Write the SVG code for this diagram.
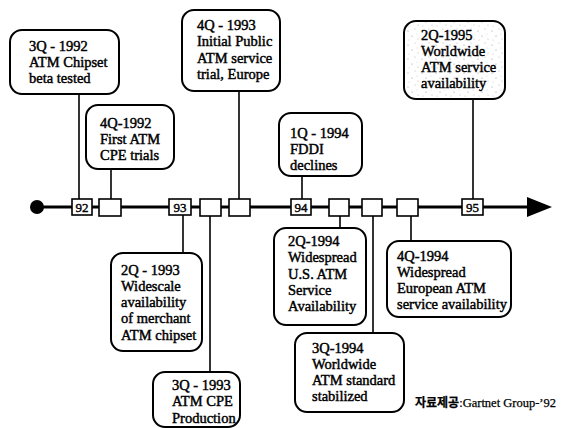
<svg xmlns="http://www.w3.org/2000/svg" width="569" height="428" viewBox="0 0 569 428">
<style>
.box{fill:#fff;stroke:#000;stroke-width:2}
.t{font-family:"Liberation Serif","Times New Roman",serif;font-size:14.5px;fill:#000;stroke:#000;stroke-width:0.45}
.tick{fill:#fff;stroke:#000;stroke-width:1.6}
.tl{font-family:"Liberation Serif","Times New Roman",serif;font-size:13px;fill:#000;stroke:#000;stroke-width:0.4;text-anchor:middle}
.c{stroke:#000;stroke-width:1.6;fill:none}
</style>
<defs>
<pattern id="speck" width="14" height="14" patternUnits="userSpaceOnUse">
<rect width="14" height="14" fill="#fff"/>
<circle cx="2" cy="3" r="0.6" fill="#999"/>
<circle cx="9" cy="1" r="0.5" fill="#aaa"/>
<circle cx="6" cy="8" r="0.6" fill="#999"/>
<circle cx="12" cy="11" r="0.5" fill="#aaa"/>
<circle cx="3" cy="12" r="0.5" fill="#bbb"/>
<circle cx="11" cy="6" r="0.4" fill="#aaa"/>
</pattern>
</defs>
<g id="timeline">
<line x1="37" y1="207" x2="530" y2="207" stroke="#000" stroke-width="3"/>
<circle cx="37" cy="207" r="7" fill="#000"/>
<polygon points="527,197 552,207 527,217" fill="#000"/>
<rect class="tick" x="72" y="199" width="20" height="16"/><text class="tl" x="82" y="212">92</text>
<rect class="tick" x="99" y="199" width="22" height="17"/>
<rect class="tick" x="169" y="199" width="22" height="16"/><text class="tl" x="180" y="212">93</text>
<rect class="tick" x="200" y="199" width="21" height="17"/>
<rect class="tick" x="229" y="199" width="21" height="17"/>
<rect class="tick" x="291" y="199" width="20" height="16"/><text class="tl" x="301" y="212">94</text>
<rect class="tick" x="329" y="199" width="20" height="17"/>
<rect class="tick" x="362" y="199" width="20" height="17"/>
<rect class="tick" x="397" y="199" width="21" height="17"/>
<rect class="tick" x="462" y="199" width="21" height="16"/><text class="tl" x="472.5" y="212">95</text>
</g>
<g id="connectors">
<line class="c" x1="79" y1="94" x2="79" y2="199"/>
<line class="c" x1="111" y1="169" x2="111" y2="199"/>
<line class="c" x1="239" y1="91" x2="239" y2="199"/>
<line class="c" x1="302" y1="176" x2="302" y2="199"/>
<line class="c" x1="473" y1="99" x2="473" y2="199"/>
<line class="c" x1="183" y1="215" x2="183" y2="253"/>
<line class="c" x1="210" y1="216" x2="210" y2="372"/>
<line class="c" x1="340" y1="216" x2="340" y2="228"/>
<line class="c" x1="373" y1="216" x2="373" y2="333"/>
<line class="c" x1="411" y1="216" x2="411" y2="241"/>
</g>
<g id="n3q1992">
<rect class="box" x="10" y="30" width="109" height="64" rx="12"/>
<text class="t" x="29" y="51">3Q - 1992</text>
<text class="t" x="29" y="67">ATM Chipset</text>
<text class="t" x="29" y="83">beta tested</text>
</g>
<g id="n4q1992">
<rect class="box" x="86" y="105" width="88" height="64" rx="12"/>
<text class="t" x="100" y="128">4Q-1992</text>
<text class="t" x="100" y="144">First ATM</text>
<text class="t" x="100" y="160">CPE trials</text>
</g>
<g id="n4q1993">
<rect class="box" x="182" y="10" width="98" height="81" rx="12"/>
<text class="t" x="197" y="30">4Q - 1993</text>
<text class="t" x="197" y="46">Initial Public</text>
<text class="t" x="197" y="63">ATM service</text>
<text class="t" x="197" y="79">trial, Europe</text>
</g>
<g id="n1q1994">
<rect class="box" x="279" y="113" width="83" height="63" rx="12"/>
<text class="t" x="290" y="138">1Q - 1994</text>
<text class="t" x="290" y="154">FDDI</text>
<text class="t" x="290" y="170">declines</text>
</g>
<g id="n2q1995">
<rect class="box" x="404" y="21" width="101" height="78" rx="12" style="fill:url(#speck)"/>
<text class="t" x="421" y="40">2Q-1995</text>
<text class="t" x="421" y="56">Worldwide</text>
<text class="t" x="421" y="72">ATM service</text>
<text class="t" x="421" y="88">availability</text>
</g>
<g id="n2q1993">
<rect class="box" x="111" y="253" width="91" height="98" rx="12"/>
<text class="t" x="121" y="275">2Q - 1993</text>
<text class="t" x="121" y="291">Widescale</text>
<text class="t" x="121" y="307">availability</text>
<text class="t" x="121" y="323">of merchant</text>
<text class="t" x="121" y="340">ATM chipset</text>
</g>
<g id="n3q1993">
<rect class="box" x="153" y="372" width="87" height="55" rx="12"/>
<text class="t" x="172" y="390">3Q - 1993</text>
<text class="t" x="172" y="406">ATM CPE</text>
<text class="t" x="172" y="423">Production</text>
</g>
<g id="n2q1994">
<rect class="box" x="274" y="228" width="92" height="97" rx="12"/>
<text class="t" x="288" y="246">2Q-1994</text>
<text class="t" x="288" y="262">Widespread</text>
<text class="t" x="288" y="279">U.S. ATM</text>
<text class="t" x="288" y="295">Service</text>
<text class="t" x="288" y="311">Availability</text>
</g>
<g id="n3q1994">
<rect class="box" x="295" y="333" width="109" height="79" rx="12"/>
<text class="t" x="312" y="353">3Q-1994</text>
<text class="t" x="312" y="369">Worldwide</text>
<text class="t" x="312" y="385">ATM standard</text>
<text class="t" x="312" y="401">stabilized</text>
</g>
<g id="n4q1994">
<rect class="box" x="387" y="241" width="124" height="76" rx="12"/>
<text class="t" x="397" y="261">4Q-1994</text>
<text class="t" x="397" y="277">Widespread</text>
<text class="t" x="397" y="293">European ATM</text>
<text class="t" x="397" y="309">service availability</text>
</g>
<text x="415" y="407" style="font-family:'Liberation Serif','Noto Sans CJK KR',serif;font-size:12.5px;fill:#000;stroke:#000;stroke-width:0.25"><tspan style="font-family:'Noto Sans CJK KR',sans-serif;font-weight:bold;font-size:12px">자료제공</tspan>:Gartnet Group-’92</text>
</svg>
